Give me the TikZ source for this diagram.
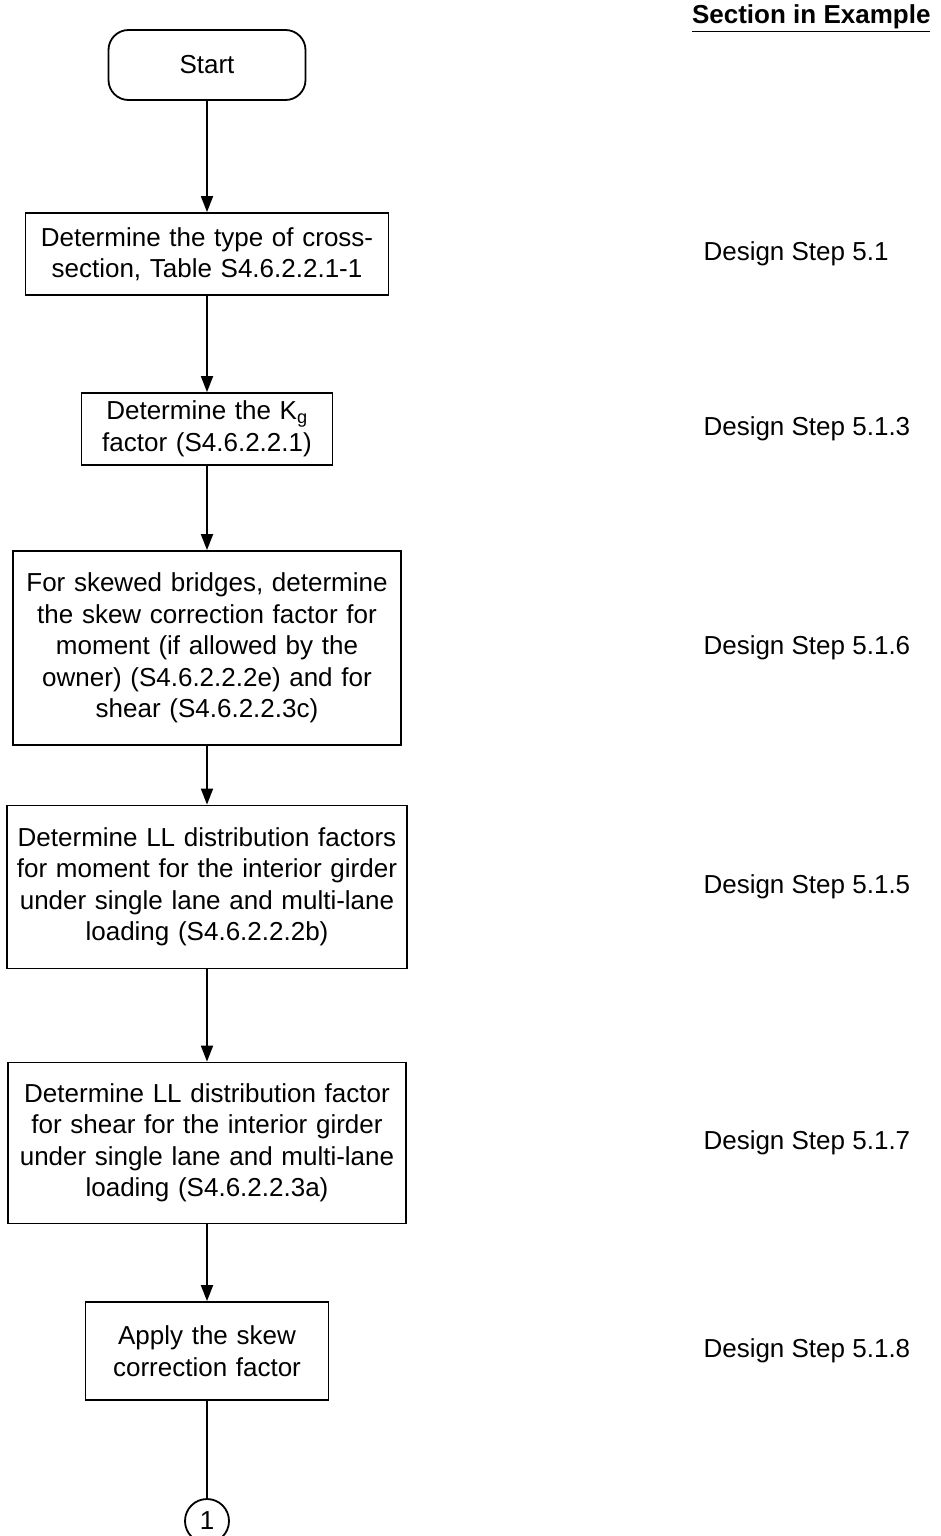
\documentclass[tikz,border=0pt]{standalone}
\usepackage{fontspec}
\setmainfont{Liberation Sans}
\usetikzlibrary{positioning,arrows.meta}

\begin{document}
\begin{tikzpicture}[x=1pt,y=1pt,node distance=190pt,on grid,auto,
  every node/.style={font=\fontsize{26}{31.5}\selectfont},
  stepbox/.style={draw,line width=1.8pt,align=center,inner xsep=4pt,inner ysep=4pt},
  term/.style={draw,line width=1.8pt,rounded corners=20pt,minimum width=197pt,minimum height=70pt},
  link/.style={draw,line width=1.8pt,circle,minimum size=44pt,inner sep=0pt},
  flow/.style={line width=1.8pt,-{Triangle[length=16pt,width=12pt]}}]
  \useasboundingbox (0,0) rectangle (940,-1536);
  \node[term] (start) at (207,-65) {Start};
  \node[stepbox,text width=355pt,minimum height=82pt] (type) [below=189pt of start]
    {Determine the type of cross-\\section, Table S4.6.2.2.1-1};
  \node[stepbox,text width=243pt,minimum height=72pt] (kg) [below=175pt of type]
    {Determine the K\textsubscript{g}\\factor (S4.6.2.2.1)};
  \node[stepbox,text width=380pt,minimum height=194pt] (skew) [below=219pt of kg]
    {For skewed bridges, determine\\the skew correction factor for\\moment (if allowed by the\\owner) (S4.6.2.2.2e) and for\\shear (S4.6.2.2.3c)};
  \node[stepbox,text width=392pt,minimum height=163pt] (mom) [below=239pt of skew]
    {Determine LL distribution factors\\for moment for the interior girder\\under single lane and multi-lane\\loading (S4.6.2.2.2b)};
  \node[stepbox,text width=390pt,minimum height=161pt] (shr) [below=256pt of mom]
    {Determine LL distribution factor\\for shear for the interior girder\\under single lane and multi-lane\\loading (S4.6.2.2.3a)};
  \node[stepbox,text width=235pt,minimum height=98pt] (apply) [below=208pt of shr]
    {Apply the skew\\correction factor};
  \node[link] (conn) [below=170pt of apply] {1};
  % section column
  \node[anchor=base east,font=\fontsize{26}{31.5}\selectfont\bfseries] (head) at (934,-24)
    {\underline{Section in Example}};
  \node[anchor=west] (s1) at (type -| 700,0) {Design Step 5.1};
  \node[anchor=west] (s2) at (kg -| 700,0) {Design Step 5.1.3};
  \node[anchor=west] (s3) at (skew -| 700,0) {Design Step 5.1.6};
  \node[anchor=west] (s4) at (mom -| 700,0) {Design Step 5.1.5};
  \node[anchor=west] (s5) at (shr -| 700,0) {Design Step 5.1.7};
  \node[anchor=west] (s6) at (apply -| 700,0) {Design Step 5.1.8};
  \path[flow]
  (start) edge (type)
  (type) edge (kg)
  (kg) edge (skew)
  (skew) edge (mom)
  (mom) edge (shr)
  (shr) edge (apply)
  (apply) edge[-] (conn)
  ;
\end{tikzpicture}
\end{document}
